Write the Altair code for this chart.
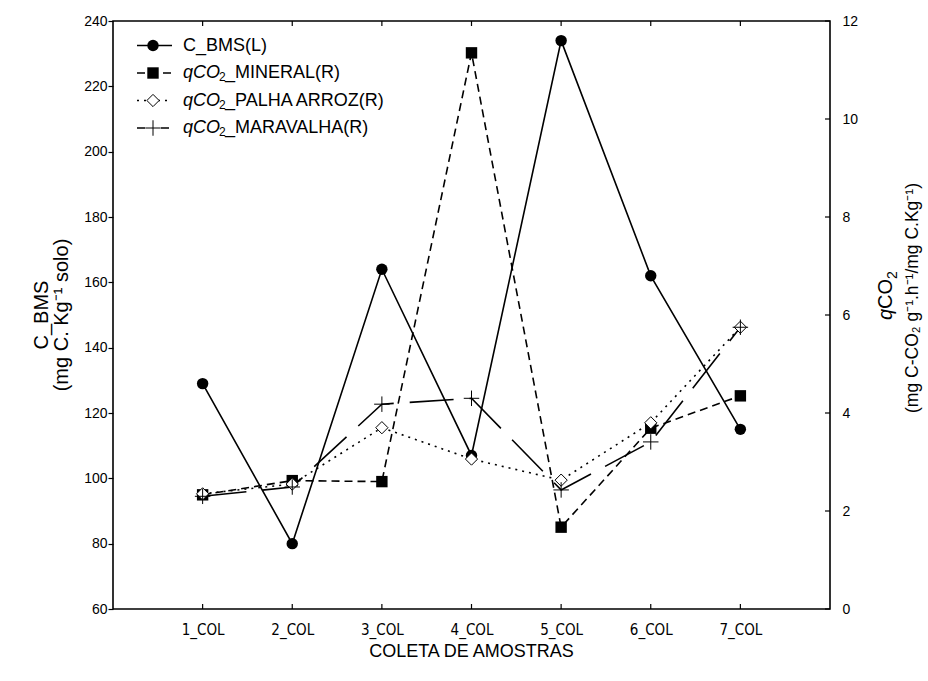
import altair as alt
import pandas as pd

# ---------------- data ----------------
coletas = [1, 2, 3, 4, 5, 6, 7]
c_bms = [129, 80, 164, 107, 234, 162, 115]
q_mineral = [2.33, 2.62, 2.6, 11.35, 1.67, 3.69, 4.35]
q_palha = [2.35, 2.55, 3.7, 3.06, 2.63, 3.8, 5.75]
q_maravalha = [2.3, 2.49, 4.18, 4.3, 2.43, 3.41, 5.75]

left_ticks = [60, 80, 100, 120, 140, 160, 180, 200, 220, 240]
right_ticks = [0, 2, 4, 6, 8, 10, 12]

W, H = 717, 588
FONT = "Liberation Sans"
NARROW = "'Liberation Sans Narrow', 'DejaVu Sans Condensed', 'Liberation Sans', sans-serif"

df_left = pd.DataFrame({"x": coletas, "v": c_bms})
df_min = pd.DataFrame({"x": coletas, "v": q_mineral})
df_pal = pd.DataFrame({"x": coletas, "v": q_palha})
df_mar = pd.DataFrame({"x": coletas, "v": q_maravalha})

xscale = alt.Scale(domain=[0, 8], nice=False, zero=False)
yl_scale = alt.Scale(domain=[60, 240], nice=False, zero=False)
yr_scale = alt.Scale(domain=[0, 12], nice=False, zero=False)

x_axis = alt.Axis(values=coletas, labelExpr="datum.value + '_COL'", ticks=False, tickSize=0,
                  domain=False, grid=False, title=None, labelFont=NARROW,
                  labelFontSize=15, labelPadding=13, labelColor="black", orient="bottom")
X = alt.X("x:Q", scale=xscale, axis=x_axis)

CROSS = "M-1,0L1,0M0,-1L0,1"

# ---- left layer ----
yl_axis = alt.Axis(values=left_ticks, domain=False, grid=False, title=None, tickSize=5,
                   tickColor="black", tickWidth=1.2, labelFont=FONT, labelFontSize=14,
                   labelPadding=1, labelColor="black", orient="left")
YL = alt.Y("v:Q", scale=yl_scale, axis=yl_axis)
left_line = alt.Chart(df_left).mark_line(color="black", strokeWidth=1.6).encode(x=X, y=YL)
left_pts = alt.Chart(df_left).mark_point(shape="circle", filled=True, color="black", size=130, opacity=1).encode(x=X, y=YL)
left = alt.layer(left_line, left_pts)

# ---- right layer ----
yr_axis = alt.Axis(values=right_ticks, domain=False, grid=False, title=None, ticks=False, tickSize=0,
                   labelFont=FONT, labelFontSize=14, labelPadding=12, labelColor="black", orient="right")
YR = alt.Y("v:Q", scale=yr_scale, axis=yr_axis)

min_line = alt.Chart(df_min).mark_line(color="black", strokeWidth=1.6, strokeDash=[8, 5]).encode(x=X, y=YR)
pal_line = alt.Chart(df_pal).mark_line(color="black", strokeWidth=1.6, strokeDash=[2, 5]).encode(x=X, y=YR)
mar_line = alt.Chart(df_mar).mark_line(color="black", strokeWidth=1.6, strokeDash=[44, 16]).encode(x=X, y=YR)
min_pts = alt.Chart(df_min).mark_point(shape="square", filled=True, color="black", size=130, opacity=1).encode(x=X, y=YR)
pal_pts = alt.Chart(df_pal).mark_point(shape="diamond", filled=True, fill="white", stroke="black",
                                        strokeWidth=1, size=150, opacity=1).encode(x=X, y=YR)
mar_pts = alt.Chart(df_mar).mark_point(shape=CROSS, filled=False, stroke="black", strokeWidth=1,
                                       size=240, opacity=1).encode(x=X, y=YR)

df_rt = pd.DataFrame({"v": right_ticks})
r_ticks = alt.Chart(df_rt).mark_rule(color="black", strokeWidth=1.2).encode(
    y=YR, x=alt.value(W - 5), x2=alt.value(W))
right = alt.layer(min_line, pal_line, mar_line, min_pts, pal_pts, mar_pts, r_ticks)

# ---- inward x ticks (bottom and top) ----
df_xt = pd.DataFrame({"x": coletas})
xt_bottom = alt.Chart(df_xt).mark_rule(color="black", strokeWidth=1.2).encode(
    x=X, y=alt.value(H - 5), y2=alt.value(H))
xt_top = alt.Chart(df_xt).mark_rule(color="black", strokeWidth=1.2).encode(
    x=X, y=alt.value(0), y2=alt.value(5))

# ---- titles ----
def txt(s, x, y, size=17, angle=0, align="center", baseline="middle", style="normal", font=FONT):
    return alt.Chart(pd.DataFrame({"t": [s]})).mark_text(
        fontSize=size, font=font, angle=angle, align=align, baseline=baseline,
        fontStyle=style, color="black").encode(text="t:N", x=alt.value(x), y=alt.value(y))

x_title = txt("COLETA DE AMOSTRAS", W / 2, 631, size=18)
yl_t1 = txt("C_BMS", -65, 294, size=20, angle=270, baseline="alphabetic")
yl_t2 = txt("(mg C. Kg⁻¹ solo)", -45, 294, size=20, angle=270, baseline="alphabetic")

# right title: italic q + CO + subscript 2
ry0 = 299
yr_q = txt("q", 779, ry0, size=20, angle=270, align="left", baseline="alphabetic", style="italic")
yr_co = txt("CO", 779, ry0 - 11, size=20, angle=270, align="left", baseline="alphabetic")
yr_2 = txt("2", 784, ry0 - 11 - 30, size=14, angle=270, align="left", baseline="alphabetic")
yr_t2 = txt("(mg C-CO₂ g⁻¹.h⁻¹/mg C.Kg⁻¹)", 805, 277, size=17.5, angle=270, baseline="alphabetic")

# ---- legend (manual) ----
LX0, LX1, LMX, LT = 24, 59, 40, 70
rows = [24.5, 52, 79.5, 107]
leg = []
def seg(y, dash=None):
    kw = {"color": "black", "strokeWidth": 1.6}
    if dash:
        kw["strokeDash"] = dash
    return alt.Chart(pd.DataFrame({"a": [0]})).mark_rule(**kw).encode(
        x=alt.value(LX0), x2=alt.value(LX1), y=alt.value(y))

def sym(y, **kw):
    return alt.Chart(pd.DataFrame({"a": [0]})).mark_point(opacity=1, **kw).encode(
        x=alt.value(LMX), y=alt.value(y))

leg += [seg(rows[0]), sym(rows[0], shape="circle", filled=True, color="black", size=130),
        txt("C_BMS(L)", LT, rows[0], size=18, align="left")]
leg += [seg(rows[1], [8, 5]), sym(rows[1], shape="square", filled=True, color="black", size=130)]
leg += [seg(rows[2], [2, 5]), sym(rows[2], shape="diamond", filled=True, fill="white", stroke="black", strokeWidth=1, size=150)]
leg += [seg(rows[3], [8, 16]), sym(rows[3], shape=CROSS, filled=False, stroke="black", strokeWidth=1, size=240)]
names = ["_MINERAL(R)", "_PALHA ARROZ(R)", "_MARAVALHA(R)"]
for r, nm in zip(rows[1:], names):
    leg += [txt("qCO", LT, r, size=18, align="left", style="italic"),
            txt("2", LT + 36, r + 4, size=12, align="left"),
            txt(nm, LT + 42, r, size=18, align="left")]

chart = alt.layer(
    left, right, xt_bottom, xt_top, x_title, yl_t1, yl_t2, yr_q, yr_co, yr_2, yr_t2, *leg
).resolve_scale(y="independent").properties(
    width=W, height=H,
    padding={"left": 113, "top": 21, "right": 98, "bottom": 72},
    autosize=alt.AutoSizeParams(type="none"),
    background="white",
).configure_view(stroke="black", strokeWidth=1.6)

chart.save("out.html", embed_options={"renderer": "svg", "actions": False})
